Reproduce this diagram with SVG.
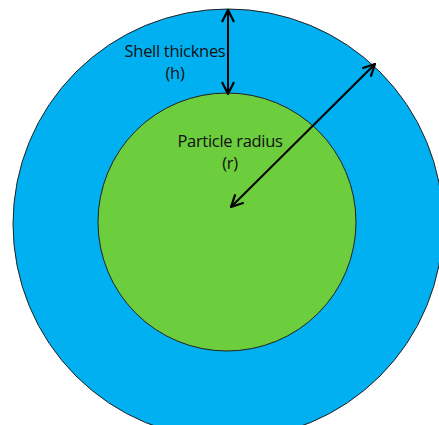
<svg xmlns="http://www.w3.org/2000/svg" width="439" height="425" viewBox="0 0 439 425">
<style>
.lbl{font-family:"Open Sans","Liberation Sans",sans-serif;font-size:16.5px;fill:#111;text-anchor:middle;letter-spacing:-0.3px}
.arr{stroke:#000;stroke-width:2;fill:none}
</style>
<defs>
<marker id="ah" viewBox="0 0 14 14" refX="13" refY="7" markerWidth="14" markerHeight="14" markerUnits="userSpaceOnUse" orient="auto-start-reverse">
<path d="M1,1 L13,7 L1,13" fill="none" stroke="#000" stroke-width="2.2"/>
</marker>
</defs>
<rect width="439" height="425" fill="#fff"/>
<g id="shell">
<circle cx="228" cy="224" r="215" fill="#00B0F0" stroke="#222" stroke-width="1"/>
</g>
<g id="particle">
<circle cx="227" cy="222" r="129" fill="#6CCD3D" stroke="#222" stroke-width="1"/>
</g>
<g id="connectors">
<line class="arr" x1="228" y1="10" x2="228" y2="94" marker-start="url(#ah)" marker-end="url(#ah)"/>
<line class="arr" x1="375" y1="64" x2="231" y2="207" marker-start="url(#ah)" marker-end="url(#ah)"/>
</g>
<g id="labels">
<text class="lbl" x="175" y="57">Shell thicknes</text>
<text class="lbl" x="175" y="79">(h)</text>
<text class="lbl" x="230" y="147">Particle radius</text>
<text class="lbl" x="230" y="169">(r)</text>
</g>
</svg>
